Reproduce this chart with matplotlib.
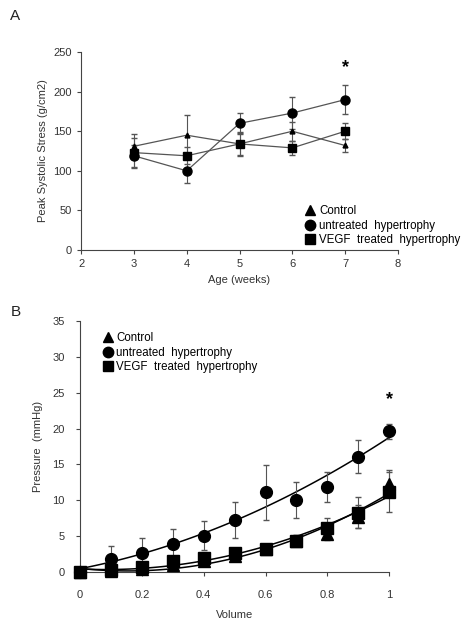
import numpy as np
import matplotlib
matplotlib.use("Agg")
import matplotlib.pyplot as plt
from matplotlib.lines import Line2D

plt.rcParams['font.family'] = ['Liberation Sans', 'DejaVu Sans']

# panel A: peak systolic stress vs age
age = [3, 4, 5, 6, 7]
ctrl_a = [131, 145, 134, 150, 132]
ctrl_a_err = [16, 26, 14, 12, 8]
untr_a = [119, 100, 160, 173, 190]
untr_a_err = [14, 15, 13, 20, 18]
vegf_a = [123, 119, 134, 129, 150]
vegf_a_err = [19, 11, 15, 9, 10]

# panel B: pressure vs volume
vol = [0, 0.1, 0.2, 0.3, 0.4, 0.5, 0.6, 0.7, 0.8, 0.9, 1.0]
untr_b = [0.0, 1.8, 2.7, 3.9, 5.1, 7.3, 11.1, 10.0, 11.9, 16.1, 19.6]
untr_b_err = [0, 1.8, 2.0, 2.1, 2.0, 2.5, 3.8, 2.5, 2.1, 2.3, 1.1]
ctrl_b = [0.0, 0.2, 0.4, 1.0, 1.5, 2.2, 3.2, 4.4, 5.3, 7.7, 12.3]
ctrl_b_err = [0, 0.2, 0.3, 0.4, 0.4, 0.5, 0.5, 0.8, 0.8, 1.6, 1.9]
vegf_b = [0.0, 0.3, 0.7, 1.6, 2.0, 2.6, 3.2, 4.4, 6.2, 8.3, 11.2]
vegf_b_err = [0, 0.2, 0.3, 0.4, 0.4, 0.5, 0.5, 0.8, 1.4, 2.1, 2.8]

labels = ['Control', 'untreated  hypertrophy', 'VEGF  treated  hypertrophy']
markers = ['^', 'o', 's']

txt = '#333333'
gray = '#555555'

fig = plt.figure(figsize=(4.66, 6.28), dpi=100)

def style(ax):
    for s in ['top', 'right']:
        ax.spines[s].set_visible(False)
    for s in ['left', 'bottom']:
        ax.spines[s].set_color('#444444')
        ax.spines[s].set_linewidth(0.8)
    ax.tick_params(direction='out', length=3, width=0.8, colors='#444444',
                   labelsize=8, labelcolor=txt)

# ---- A ----
ax1 = fig.add_axes([0.174, 0.602, 0.680, 0.315])
style(ax1)
for y, e, m, ms in [(ctrl_a, ctrl_a_err, '^', 3.5), (untr_a, untr_a_err, 'o', 6.5), (vegf_a, vegf_a_err, 's', 6.2)]:
    ax1.errorbar(age, y, yerr=e, color=gray, lw=0.9, elinewidth=0.8, capsize=2,
                 marker=m, ms=ms, mfc='black', mec='black', ecolor=gray)
ax1.set_xlim(2, 8)
ax1.set_ylim(0, 250)
ax1.set_xticks(range(2, 9))
ax1.set_yticks(range(0, 251, 50))
ax1.set_xlabel('Age (weeks)', fontsize=8, color=txt, labelpad=4)
ax1.set_ylabel('Peak Systolic Stress (g/cm2)', fontsize=8, color=txt, labelpad=4)
ax1.text(7, 231, '*', ha='center', va='center', fontsize=13, fontweight='bold')

handles = [Line2D([], [], ls='none', marker=m, ms=7.5, color='black') for m in markers]
ax1.legend(handles, labels, loc='upper left', bbox_to_anchor=(0.640, 0.682),
           bbox_transform=fig.transFigure, frameon=False, fontsize=8.3,
           handletextpad=0.2, labelspacing=0.2, handlelength=1.1, borderpad=0)

# ---- B ----
ax2 = fig.add_axes([0.172, 0.089, 0.663, 0.400])
style(ax2)
xf = np.linspace(0, 1, 100)
for y, e, m in [(ctrl_b, ctrl_b_err, '^'), (untr_b, untr_b_err, 'o'), (vegf_b, vegf_b_err, 's')]:
    ax2.errorbar(vol, y, yerr=e, ls='none', marker=m, ms=8.5, mfc='black', mec='black',
                 ecolor=gray, elinewidth=0.8, capsize=2, clip_on=False, zorder=3)
    p = np.polyfit(vol, y, 2)
    ax2.plot(xf, np.polyval(p, xf), color='black', lw=1.1, zorder=2)
ax2.set_xlim(0, 1)
ax2.set_ylim(0, 35)
ax2.set_xticks([0, 0.2, 0.4, 0.6, 0.8, 1.0])
ax2.set_xticklabels(['0', '0.2', '0.4', '0.6', '0.8', '1'])
ax2.set_yticks(range(0, 36, 5))
ax2.tick_params(axis='x', pad=10)
ax2.tick_params(axis='y', pad=8)
ax2.set_xlabel('Volume', fontsize=8, color=txt, labelpad=7)
ax2.set_ylabel('Pressure  (mmHg)', fontsize=8, color=txt, labelpad=7)
ax2.text(1, 24, '*', ha='center', va='center', fontsize=13, fontweight='bold')

ax2.legend(handles, labels, loc='upper left', bbox_to_anchor=(0.205, 0.480),
           bbox_transform=fig.transFigure, frameon=False, fontsize=8.3,
           handletextpad=0.2, labelspacing=0.2, handlelength=1.1, borderpad=0)

fig.text(0.022, 0.975, 'A', fontsize=11, va='center', color='#222222')
fig.text(0.022, 0.503, 'B', fontsize=11, va='center', color='#222222')

fig.savefig('out.png', dpi=100)
